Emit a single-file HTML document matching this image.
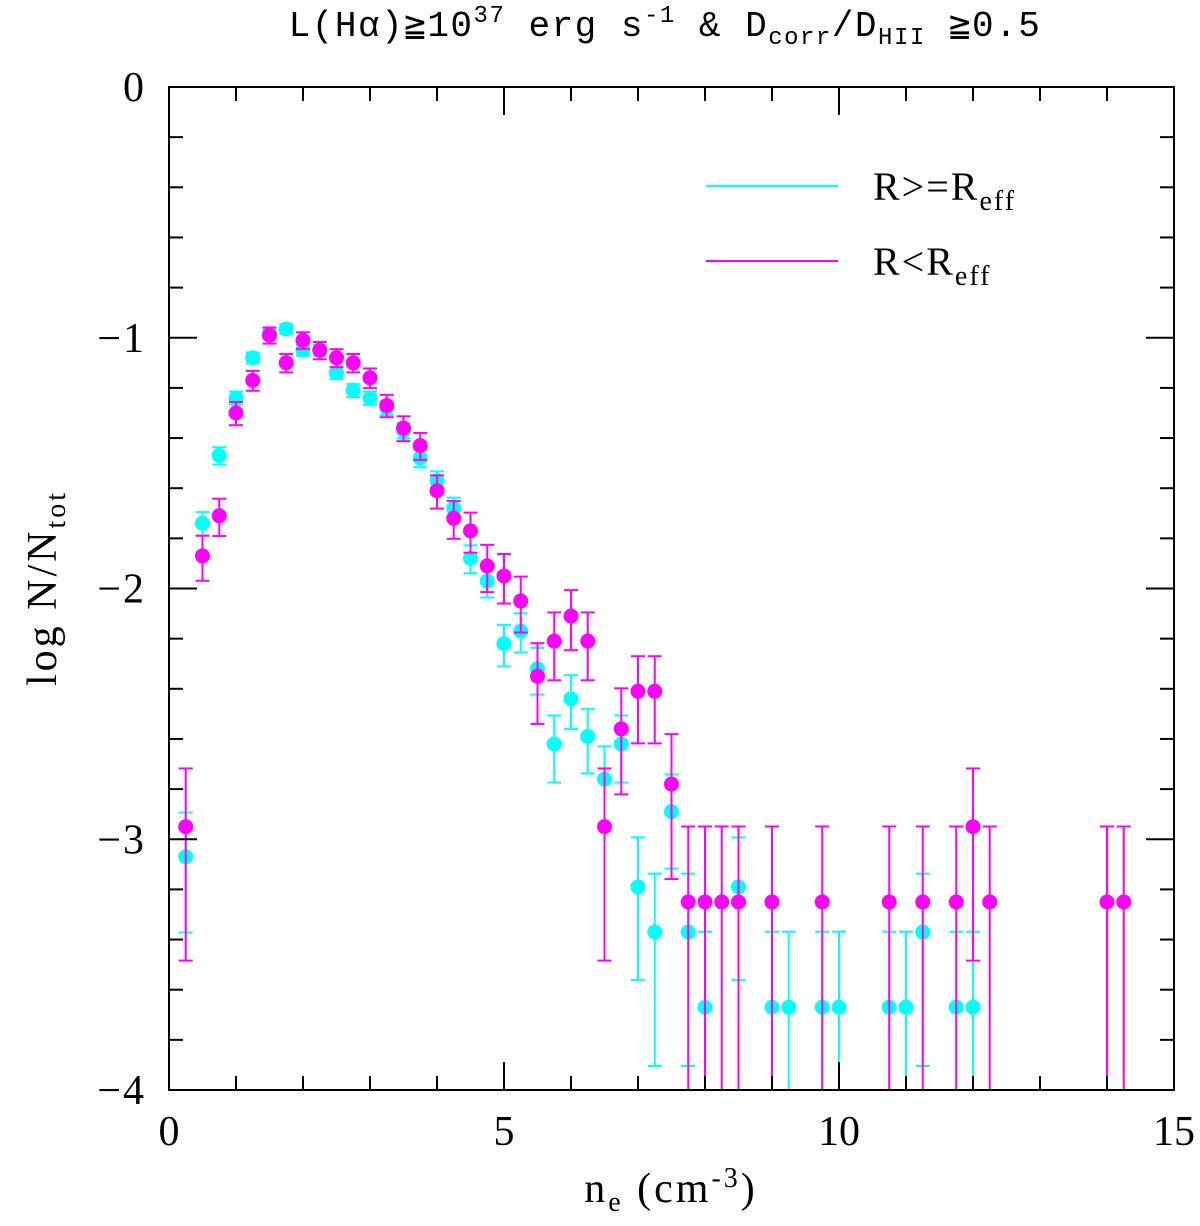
<!DOCTYPE html>
<html><head><meta charset="utf-8"><style>
html,body{margin:0;padding:0;background:#fff;}
svg{display:block;font-family:"Liberation Serif",serif;}
</style></head><body>
<svg id="chart" width="1200" height="1226" viewBox="0 0 1200 1226" xmlns="http://www.w3.org/2000/svg">
<g id="marks"></g>
<g id="axes"></g>
<text x="665" y="36" text-anchor="middle" font-family="Liberation Mono, monospace" font-size="36" letter-spacing="1.5">L(Hα)≧10<tspan dy="-14" font-size="24">37</tspan><tspan dy="14"> erg s</tspan><tspan dy="-14" font-size="24">-1</tspan><tspan dy="14"> &amp; D</tspan><tspan dy="8" font-size="24">corr</tspan><tspan dy="-8">/D</tspan><tspan dy="8" font-size="24">HII</tspan><tspan dy="-8"> ≧0.5</tspan></text>
<text x="671" y="1202" text-anchor="middle" font-size="42" letter-spacing="3">n<tspan dy="9" font-size="28">e</tspan><tspan dy="-9">  (cm</tspan><tspan dy="-15" font-size="28">-3</tspan><tspan dy="15">)</tspan></text>
<text transform="translate(56,588) rotate(-90)" text-anchor="middle" font-size="42" letter-spacing="3">log N/N<tspan dy="9" font-size="28">tot</tspan></text>
<g>
<line x1="706" y1="186" x2="838" y2="186" stroke="#00ffff" stroke-width="2"/>
<text x="873" y="200" font-size="40" letter-spacing="2">R&gt;=R<tspan dy="10" font-size="28">eff</tspan></text>
<line x1="706" y1="261" x2="838" y2="261" stroke="#ff00ff" stroke-width="2"/>
<text x="873" y="275" font-size="40" letter-spacing="2">R&lt;R<tspan dy="10" font-size="28">eff</tspan></text>
</g>
</svg>
<script>
const cyanX=[0.25,0.5,0.75,1,1.25,1.5,1.75,2,2.25,2.5,2.75,3,3.25,3.5,3.75,4,4.25,4.5,4.75,5,5.25,5.5,5.75,6,6.25,6.5,6.75,7,7.25,7.5,7.75,8,8.5,9,9.25,9.75,10,10.75,11,11.25,11.75,12];
const cyanY=[-3.07,-1.74,-1.47,-1.24,-1.08,-0.985,-0.965,-1.05,-1.05,-1.14,-1.21,-1.24,-1.28,-1.37,-1.48,-1.57,-1.68,-1.88,-1.97,-2.22,-2.17,-2.32,-2.62,-2.44,-2.59,-2.76,-2.62,-3.19,-3.37,-2.89,-3.37,-3.67,-3.19,-3.67,-3.67,-3.67,-3.67,-3.67,-3.67,-3.37,-3.67,-3.67];
const magX=[0.25,0.5,0.75,1,1.25,1.5,1.75,2,2.25,2.5,2.75,3,3.25,3.5,3.75,4,4.25,4.5,4.75,5,5.25,5.5,5.75,6,6.25,6.5,6.75,7,7.25,7.5,7.75,8,8.25,8.5,9,9.75,10.75,11.25,11.75,12,12.25,14,14.25];
const magY=[-2.95,-1.87,-1.71,-1.30,-1.17,-0.99,-1.10,-1.01,-1.05,-1.08,-1.10,-1.16,-1.27,-1.36,-1.43,-1.61,-1.72,-1.77,-1.91,-1.95,-2.05,-2.35,-2.21,-2.11,-2.21,-2.95,-2.56,-2.41,-2.41,-2.78,-3.25,-3.25,-3.25,-3.25,-3.25,-3.25,-3.25,-3.25,-3.25,-2.95,-3.25,-3.25,-3.25];
const cyanNtot=4680, magNtot=1780;
const xTicks=[0,5,10,15];
const yTicks=[0,-1,-2,-3,-4];

const L=169,R=1174,T=87,B=1090;
const sx=v=>L+(v-0)/15*(R-L);
const sy=v=>T+(0-v)/4*(B-T);
const NS="http://www.w3.org/2000/svg";
const marks=document.getElementById('marks');
const axes=document.getElementById('axes');
function mk(tag,attrs,parent){const e=document.createElementNS(NS,tag);for(const k in attrs)e.setAttribute(k,attrs[k]);parent.appendChild(e);return e;}

function series(xs,ys,ntot,color,name){
  const g=mk('g',{},marks);
  
  
  xs.forEach((x,i)=>{
    const n=Math.pow(10,ys[i])*ntot, s=Math.sqrt(n);
    const hi=Math.log10((n+s)/ntot);
    const lo=n-s>0.001?Math.log10((n-s)/ntot):-10;
    const px=sx(x), pyh=sy(hi), pyl=Math.min(sy(lo),B);
    const eb=mk('g',{stroke:color,'stroke-width':2},g);
    
    
    mk('line',{x1:px,y1:pyh,x2:px,y2:pyl},eb);
    mk('line',{x1:px-7,y1:pyh,x2:px+7,y2:pyh},eb);
    if(pyl<B) mk('line',{x1:px-7,y1:pyl,x2:px+7,y2:pyl},eb);
    const c=mk('circle',{cx:px,cy:sy(ys[i]),r:7.5,fill:color},g);
    
    
  });
}
series(cyanX,cyanY,cyanNtot,'#00ffff','outer');
series(magX,magY,magNtot,'#ff00ff','inner');

const frame=mk('rect',{x:L,y:T,width:R-L,height:B-T,fill:'none',stroke:'#000','stroke-width':2},axes);


for(let v=0;v<=15;v++){
  const len=v%5===0?28:14,px=sx(v);
  mk('line',{x1:px,y1:B,x2:px,y2:B-len,stroke:'#000','stroke-width':2},axes);
  mk('line',{x1:px,y1:T,x2:px,y2:T+len,stroke:'#000','stroke-width':2},axes);
}
for(let k=0;k<=20;k++){
  const v=-k*0.2,len=k%5===0?28:14,py=sy(v);
  mk('line',{x1:L,y1:py,x2:L+len,y2:py,stroke:'#000','stroke-width':2},axes);
  mk('line',{x1:R,y1:py,x2:R-len,y2:py,stroke:'#000','stroke-width':2},axes);
}
xTicks.forEach(v=>{
  const t=mk('text',{x:sx(v),y:1145,'text-anchor':'middle','font-size':42},axes);
  t.textContent=String(v);
  
  
});
yTicks.forEach(v=>{
  const t=mk('text',{x:146,y:sy(v)+14,'text-anchor':'end','font-size':42,'letter-spacing':2},axes);
  t.textContent=v===0?'0':'\u2212'+Math.abs(v);
  
  
});
</script>
</body></html>
